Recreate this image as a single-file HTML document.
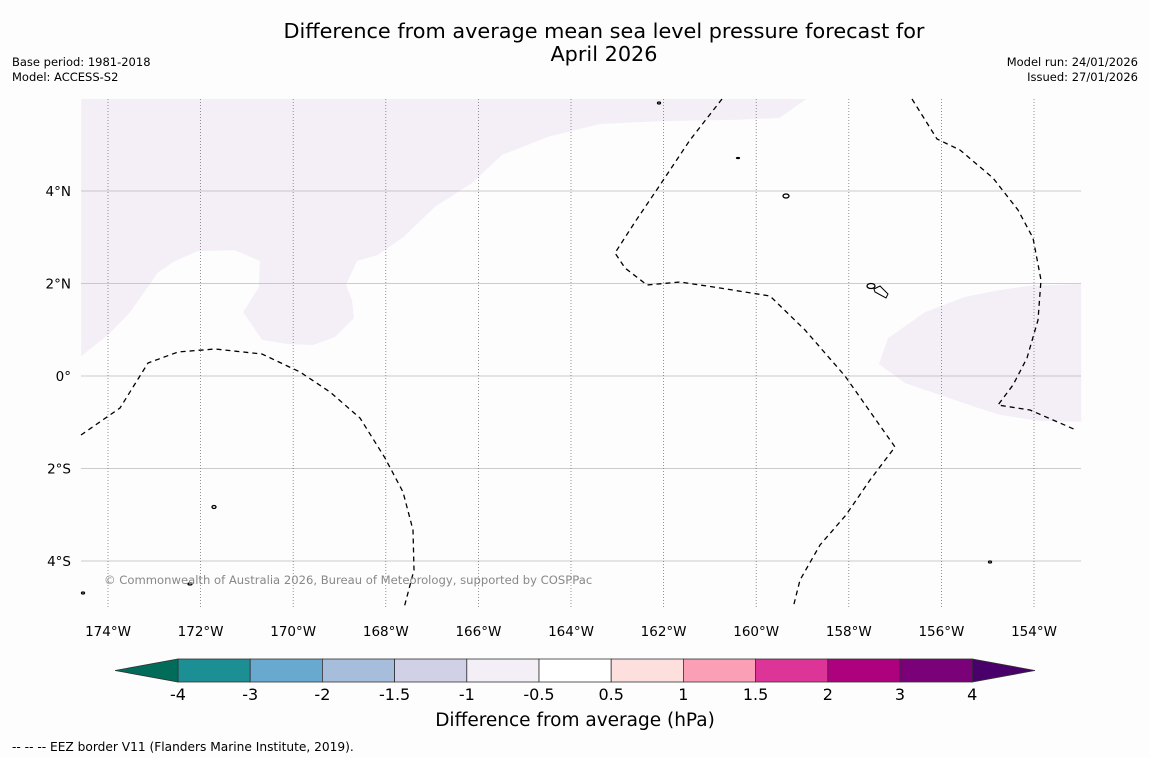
<!DOCTYPE html>
<html><head><meta charset="utf-8">
<style>
html,body{margin:0;padding:0;background:#fff;width:1150px;height:758px;overflow:hidden;font-family:"Liberation Sans","DejaVu Sans",sans-serif;}
svg text{font-family:"DejaVu Sans","Liberation Sans",sans-serif;}
</style></head>
<body>
<svg id="chart" width="1150" height="758" xmlns="http://www.w3.org/2000/svg">
<rect width="1150" height="758" fill="#fdfdfd"/>
<text x="604" y="38" font-size="20.8" text-anchor="middle" fill="#000">Difference from average mean sea level pressure forecast for</text>
<text x="604" y="61" font-size="20.8" text-anchor="middle" fill="#000">April 2026</text>
<text x="12" y="66" font-size="11.5">Base period: 1981-2018</text>
<text x="12" y="81" font-size="11.5">Model: ACCESS-S2</text>
<text x="1138" y="66" font-size="11.5" text-anchor="end">Model run: 24/01/2026</text>
<text x="1138" y="81" font-size="11.5" text-anchor="end">Issued: 27/01/2026</text>
<g id="map"></g>
<g id="cbar"></g>
<text x="575" y="726" font-size="18.5" text-anchor="middle">Difference from average (hPa)</text>
<text x="12" y="751" font-size="12.2">--  --  -- EEZ border V11 (Flanders Marine Institute, 2019).</text>
</svg>
<script>
const lonTicks=[-174,-172,-170,-168,-166,-164,-162,-160,-158,-156,-154];
const latTicks=[4,2,0,-2,-4];
const latLabels=["4°N","2°N","0°","2°S","4°S"];
const regionNW=[[-174.58,5.99],[-174.58,0.43],[-174,0.89],[-173.52,1.38],[-172.92,2.24],[-172.55,2.49],[-172.06,2.70],[-171.26,2.72],[-170.72,2.49],[-170.74,1.92],[-171.08,1.38],[-170.67,0.78],[-170.11,0.69],[-169.57,0.67],[-169.10,0.84],[-168.69,1.25],[-168.73,1.64],[-168.86,1.97],[-168.62,2.49],[-168.17,2.62],[-167.61,3.01],[-166.94,3.66],[-166.14,4.17],[-165.49,4.78],[-164.50,5.17],[-163.37,5.45],[-162.08,5.51],[-160.39,5.54],[-159.49,5.58],[-158.92,5.99]];
const regionE=[[-152.98,1.99],[-154.09,1.95],[-154.73,1.86],[-155.49,1.71],[-156.35,1.38],[-157.15,0.82],[-157.35,0.26],[-156.79,-0.15],[-156.03,-0.41],[-155.27,-0.67],[-154.73,-0.84],[-153.87,-0.97],[-152.98,-0.99]];
const cbLevels=[-4,-3,-2,-1.5,-1,-0.5,0.5,1,1.5,2,3,4];
const cbLabels=["-4","-3","-2","-1.5","-1","-0.5","0.5","1","1.5","2","3","4"];
const cbColors=["#1b8f93","#67a9cf","#a6bddb","#d0d1e6","#f4eef6","#ffffff","#fde0dd","#fa9fb5","#dd3497","#ae017e","#7a0177"];
const cbUnder="#016c59", cbOver="#49006a";

const NS="http://www.w3.org/2000/svg";
const X=lon=>108+(lon+174)*46.3;
const Y=lat=>376-lat*46.25;
function mk(p,t,a){const e=document.createElementNS(NS,t);for(const k in a)e.setAttribute(k,a[k]);p.appendChild(e);return e;}
const map=document.getElementById('map');
[regionNW,regionE].forEach((r,i)=>{
  const p=mk(map,'polygon',{points:r.map(q=>X(q[0])+','+Y(q[1])).join(' '),fill:'#f4eef6'});
  
  
});
latTicks.forEach((l,i)=>{
  const g=mk(map,'line',{x1:81,x2:1081,y1:Y(l),y2:Y(l),stroke:'#bbb','stroke-width':0.8});
  
  
  const t=mk(map,'text',{x:71,y:Y(l)+5,'font-size':13.5,'text-anchor':'end'});
  t.textContent=latLabels[i];
  
  
});
lonTicks.forEach(l=>{
  const g=mk(map,'line',{x1:X(l),x2:X(l),y1:99,y2:608,stroke:'#777','stroke-width':0.8,'stroke-dasharray':'1,2'});
  
  
  const t=mk(map,'text',{x:X(l),y:636,'font-size':13.5,'text-anchor':'middle'});
  t.textContent=Math.abs(l)+'°W';
  
  
});
["M81,435 L120,408 L148,363 L178,352 L215,349 L262,354 L300,372 L330,392 L360,418 L385,458 L403,492 L413,530 L414,570 L404,608",
 "M722,99 L690,140 L660,185 L635,222 L615,253 L625,268 L647,285 L680,282 L720,288 L770,296 L805,330 L845,376 L895,447 L870,480 L846,515 L820,545 L800,580 L793,608",
 "M912,99 L937,139 L960,150 L993,178 L1018,210 L1033,238 L1041,280 L1038,320 L1027,358 L1013,385 L998,405 L1030,410 L1076,430"].forEach(d=>{
  const e=mk(map,'path',{d:d,fill:'none',stroke:'#000','stroke-width':1.3,'stroke-dasharray':'5,4'});
  
  
});
[[871,286,8,5],[786,196,6,4],[214,507,4,3],[190,584,4,2],[659,103,3,2],[738,158,3,1],[990,562,3,2],[83,593,3,2]].forEach(c=>{
  const e=mk(map,'ellipse',{cx:c[0],cy:c[1],rx:c[2]/2,ry:c[3]/2,fill:'none',stroke:'#000','stroke-width':1.3});
  
  
});
const isl=mk(map,'path',{d:'M874,289 L880,286 L888,294 L886,298 L875,292 Z',fill:'none',stroke:'#000','stroke-width':1});


const cr=mk(map,'text',{x:104,y:584,'font-size':11.6,fill:'#888'});
cr.textContent='© Commonwealth of Australia 2026, Bureau of Meteorology, supported by COSPPac';


const cb=document.getElementById('cbar');
const CX=i=>178+i*72.2, cy0=659, cy1=682;
cbColors.forEach((c,i)=>{
  const r=mk(cb,'rect',{x:CX(i),y:cy0,width:72.2,height:cy1-cy0,fill:c,stroke:'#333','stroke-width':0.8});
  
  
});
const tl=mk(cb,'polygon',{points:`${CX(0)},${cy0} ${CX(0)},${cy1} 115,670.5`,fill:cbUnder,stroke:'#333','stroke-width':0.8});


const n=cbColors.length;
const tr=mk(cb,'polygon',{points:`${CX(n)},${cy0} ${CX(n)},${cy1} 1035,670.5`,fill:cbOver,stroke:'#333','stroke-width':0.8});


cbLevels.forEach((v,i)=>{
  const t=mk(cb,'text',{x:CX(i),y:700,'font-size':16,'text-anchor':'middle'});
  t.textContent=cbLabels[i];
  
  
});
</script>
</body></html>
